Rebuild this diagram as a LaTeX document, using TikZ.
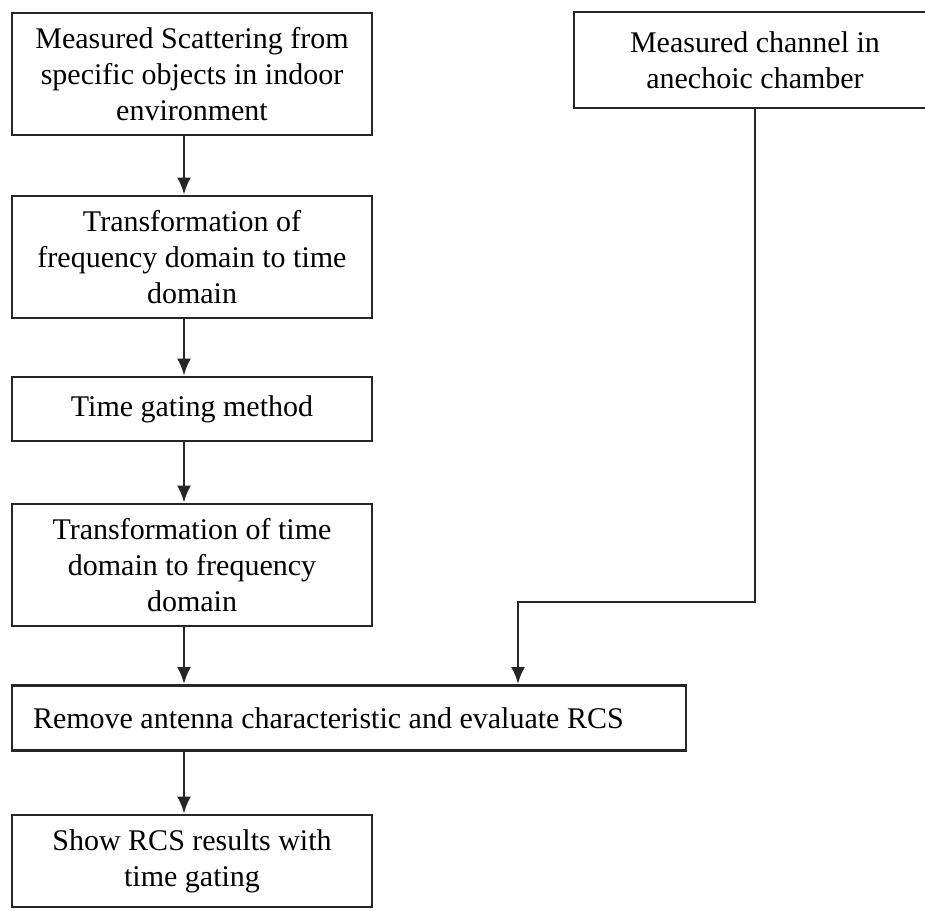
\documentclass[tikz,border=0pt]{standalone}
\usepackage{fontspec}
\setmainfont{Liberation Serif}
\usetikzlibrary{arrows.meta}

\tikzset{
    stepbox/.style={draw=black!85, line width=2.8pt, rectangle, align=center,
        inner sep=0pt, font=\fontsize{30}{36}\selectfont},
    arr/.style={draw=black!85, line width=2.8pt, -{Latex[length=17pt,width=14pt]}}
}

\begin{document}
\begin{tikzpicture}[x=1pt, y=-1pt]
    \useasboundingbox (0,0) rectangle (925,910);
    \clip (0,0) rectangle (925,910);

    % Main chain (left)
    \node[stepbox, minimum width=360, minimum height=122] (scatter) at (192,74)
        {Measured Scattering from\\specific objects in indoor\\environment};
    \node[stepbox, minimum width=360, minimum height=122] (freqtime) at (192,257)
        {Transformation of\\frequency domain to time\\domain};
    \node[stepbox, minimum width=360, minimum height=64] (gating) at (192,409)
        {Time gating method};
    \node[stepbox, minimum width=360, minimum height=122] (timefreq) at (192,565)
        {Transformation of time\\domain to frequency\\domain};
    \node[stepbox, minimum width=674, minimum height=65] (remove) at (349,718)
        {\makebox[632pt][l]{Remove antenna characteristic and evaluate RCS}};
    \node[stepbox, minimum width=360, minimum height=92] (result) at (192,861)
        {Show RCS results with\\time gating};

    % Reference measurement (right)
    \node[stepbox, minimum width=362, minimum height=96] (chamber) at (755,60)
        {Measured channel in\\anechoic chamber};
    \coordinate (bend) at (518,602);

    % Arrows
    \draw[arr] ([xshift=-8]scatter.south) -- ([xshift=-8]freqtime.north);
    \draw[arr] ([xshift=-8]freqtime.south) -- ([xshift=-8]gating.north);
    \draw[arr] ([xshift=-8]gating.south) -- ([xshift=-8]timefreq.north);
    \draw[arr] ([xshift=-8]timefreq.south) -- ([xshift=-8]timefreq.south |- remove.north);
    \draw[arr] ([xshift=-165]remove.south) -- ([xshift=-8]result.north);
    \draw[arr] (chamber.south) |- (bend) -- (bend |- remove.north);
\end{tikzpicture}
\end{document}
